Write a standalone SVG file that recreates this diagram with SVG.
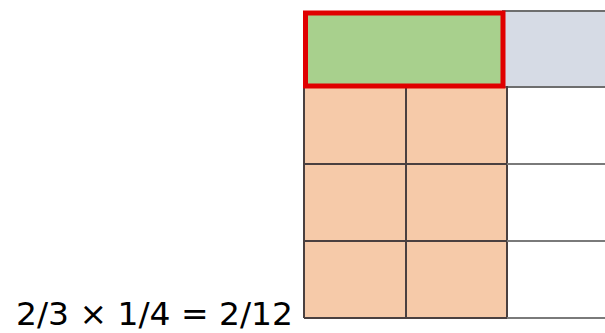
<svg xmlns="http://www.w3.org/2000/svg" width="605" height="333" viewBox="0 0 605 333">
<style>
.cell{fill:#f6caa9;}
.ln{stroke:#4a4040;stroke-width:2;fill:none;}
.gl{stroke:#7a7a7a;stroke-width:2;fill:none;}
.t{font-family:"DejaVu Sans",Verdana,sans-serif;font-size:32px;fill:#000;}
</style>
<rect width="605" height="333" fill="#fff"/>
<g id="top-gray">
<rect x="503" y="11" width="104" height="76" fill="#d6dbe5" stroke="#6e6e6e" stroke-width="2"/>
</g>
<g id="orange-cells">
<rect class="cell" x="304" y="88" width="203" height="230"/>
</g>
<g id="grid-lines">
<line class="ln" x1="304" y1="86" x2="304" y2="318"/>
<line class="ln" x1="406" y1="88" x2="406" y2="318"/>
<line class="ln" x1="507" y1="86" x2="507" y2="318"/>
<line class="ln" x1="304" y1="164" x2="507" y2="164"/>
<line class="ln" x1="304" y1="241" x2="507" y2="241"/>
<line class="ln" x1="304" y1="318" x2="507" y2="318"/>
<line class="gl" x1="507" y1="164" x2="605" y2="164"/>
<line class="gl" x1="507" y1="241" x2="605" y2="241"/>
<line class="gl" x1="507" y1="318" x2="605" y2="318"/>
</g>
<g id="selected">
<rect x="305.5" y="13" width="197.5" height="73" fill="#a8d08d" stroke="#e00000" stroke-width="5"/>
</g>
<g id="label">
<text class="t" x="16" y="325" textLength="277" lengthAdjust="spacingAndGlyphs">2/3 × 1/4 = 2/12</text>
</g>
</svg>
